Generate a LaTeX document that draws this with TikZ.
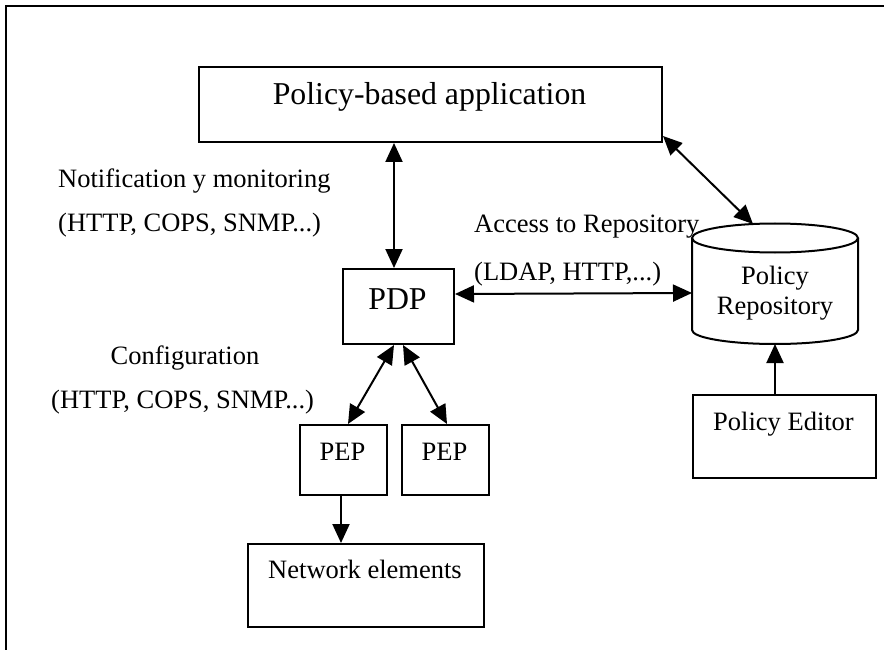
\documentclass[tikz,border=0pt]{standalone}
\usepackage{fontspec}
\setmainfont{Liberation Serif}
\usetikzlibrary{arrows.meta}

\tikzset{
  box/.style={draw, line width=2pt, inner sep=0pt, anchor=north west},
  lbl/.style={inner sep=0pt, font=\fontsize{26.5}{30}\selectfont},
  biglbl/.style={inner sep=0pt, font=\fontsize{31.8}{36}\selectfont},
  one/.style={line width=2pt, -{Triangle[length=19pt,width=17pt]}},
  two/.style={line width=2pt, {Triangle[length=19pt,width=17pt]}-{Triangle[length=19pt,width=17pt]}},
}

\begin{document}
\begin{tikzpicture}[x=1pt,y=1pt]
  \useasboundingbox (0,0) rectangle (887,-650);

  % frame lines (top and left)
  \draw[line width=2pt] (6,-650) -- (6,-6) -- (884,-6);

  % boxes
  \node[box, minimum width=463pt, minimum height=75pt] (app) at (198,-66) {};
  \node[biglbl, anchor=base] (appT) at (429.5,-105) {Policy-based application};

  \node[box, minimum width=111pt, minimum height=75pt] (pdp) at (342,-268) {};
  \node[biglbl, anchor=base] (pdpT) at (397.5,-309) {PDP};

  \node[box, minimum width=87pt, minimum height=70pt] (pep1) at (299,-424) {};
  \node[lbl, anchor=base] (pep1T) at (342.5,-460) {PEP};
  \node[box, minimum width=87pt, minimum height=70pt] (pep2) at (401,-424) {};
  \node[lbl, anchor=base] (pep2T) at (444.5,-460) {PEP};

  \node[box, minimum width=236pt, minimum height=83pt] (net) at (247,-543) {};
  \node[lbl, anchor=base] (netT) at (365,-578) {Network elements};

  \node[box, minimum width=183pt, minimum height=83pt] (edit) at (692,-394) {};
  \node[lbl, anchor=base] (editT) at (783.5,-430) {Policy Editor};

  % repository cylinder
  \coordinate (cylTop) at (775,-238);
  \coordinate (cylW) at (692,-293);
  \coordinate (cylB) at (775,-344);
  \coordinate (cylTL) at (753,-224);
  \draw[line width=2pt] (692,-238) -- (692,-330)
     arc[start angle=180, end angle=360, x radius=83pt, y radius=14pt]
     -- (858,-238);
  \draw[line width=2pt] (cylTop) ellipse [x radius=83pt, y radius=14.5pt];
  \node[lbl, anchor=base] (repT1) at (775,-284) {Policy};
  \node[lbl, anchor=base] (repT2) at (775,-314) {Repository};

  % protocol labels
  \node[lbl, anchor=base west] (notif) at (58,-188) {Notification y monitoring};
  \node[lbl, anchor=base west] (notifP) at (58,-232) {(HTTP, COPS, SNMP...)};
  \node[lbl, anchor=base west] (acc) at (474,-233) {Access to Repository};
  \node[lbl, anchor=base west] (accP) at (474,-280) {(LDAP, HTTP,...)};
  \node[lbl, anchor=base] (conf) at (185,-364) {Configuration};
  \node[lbl, anchor=base west] (confP) at (51,-408) {(HTTP, COPS, SNMP...)};

  % connectors
  \draw[two] ([xshift=-4.5pt]pdp.north) -- ([xshift=-4.5pt]pdp.north |- app.south);
  \draw[two] ([yshift=12.5pt]pdp.east) -- (cylW);
  \draw[two] ([yshift=7pt]app.south east) -- (cylTL);
  \draw[two] ([xshift=-4.5pt]pdp.south) -- ([xshift=4.5pt]pep1.north);
  \draw[two] ([xshift=4.5pt]pdp.south) -- ([xshift=1.5pt]pep2.north);
  \draw[one] ([xshift=-2.5pt]pep1.south) -- ([xshift=-2.5pt]pep1.south |- net.north);
  \draw[one] (edit.north -| cylB) -- (cylB);
\end{tikzpicture}
\end{document}
